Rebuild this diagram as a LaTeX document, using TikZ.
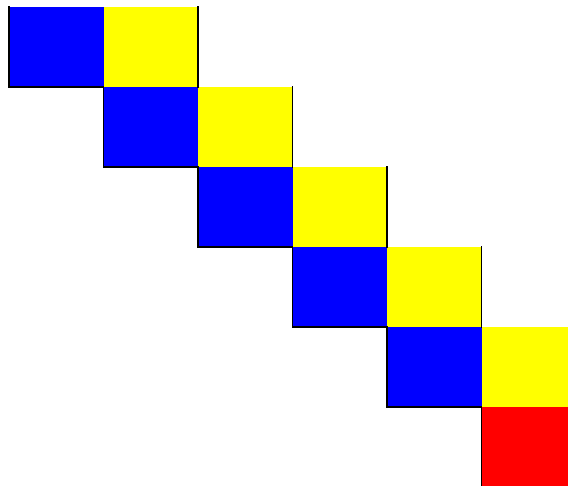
\documentclass[tikz,border=0pt]{standalone}
\usepackage{tikz}
\usetikzlibrary{positioning}
\definecolor{cellblue}{RGB}{0,0,255}
\definecolor{cellyellow}{RGB}{255,255,0}
\definecolor{cellred}{RGB}{255,0,0}

\begin{document}
\begin{tikzpicture}[
    x=1pt, y=-1pt,
    cell/.style={
        inner sep=0pt,
        outer sep=0pt,
        minimum width=94.5pt,
        minimum height=80pt,
        anchor=north west
    },
    bluecell/.style={cell, fill=cellblue},
    yellowcell/.style={cell, fill=cellyellow},
    redcell/.style={cell, fill=cellred},
    edge/.style={line width=1.4pt, line cap=rect}
]
\useasboundingbox (0,0) rectangle (568,486);

% treppe aus blau-gelben paaren
\foreach \i in {0,...,4} {
    \node[bluecell] (b\i) at ({9+94.5*\i},{7+80*\i}) {};
    \node[yellowcell, right=0pt of b\i] (y\i) {};
}
\node[redcell, below=0pt of y4] (r) {};

\foreach \i in {0,...,4} {
    \draw[edge] (b\i.north west) -- (b\i.south west) -- (b\i.south east);
    \draw[edge] (y\i.north east) -- (y\i.south east);
}
\draw[edge] (r.north west) -- (r.south west) -- (r.south east);

\end{tikzpicture}
\end{document}
